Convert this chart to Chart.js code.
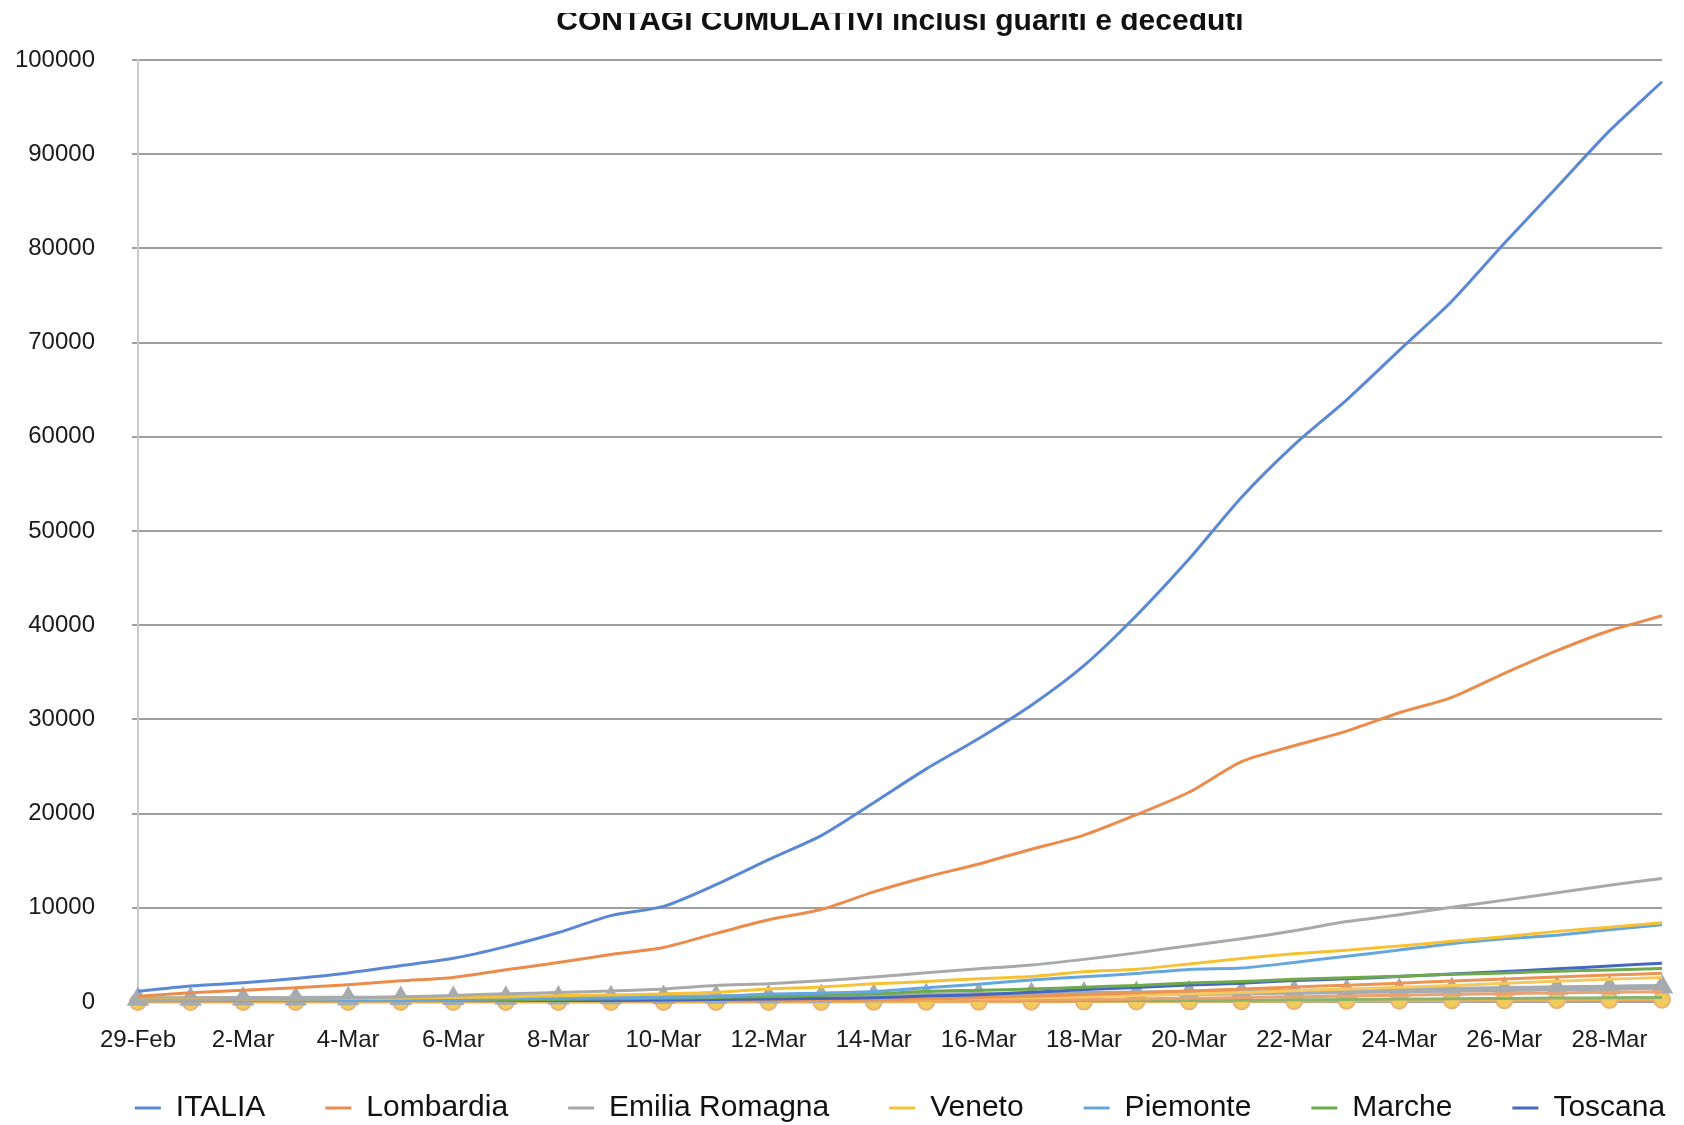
<!DOCTYPE html>
<html>
<head>
<meta charset="utf-8">
<script src="https://cdn.jsdelivr.net/npm/chart.js@4.4.1/dist/chart.umd.min.js"></script>
<style>
  html, body { margin: 0; padding: 0; background: #fff; overflow: hidden; }
  #wrap { position: absolute; top: 13px; left: 0; width: 1684px; height: 1112px; overflow: hidden; }
  #contagi { display: block; margin-top: -14px; }
</style>
</head>
<body>
<div id="wrap"><canvas id="contagi" width="1800" height="1256"></canvas></div>
<script>
// giorni (29-Feb .. 29-Mar)
const days = ['29-Feb', '1-Mar', '2-Mar', '3-Mar', '4-Mar', '5-Mar', '6-Mar', '7-Mar', '8-Mar', '9-Mar',
  '10-Mar', '11-Mar', '12-Mar', '13-Mar', '14-Mar', '15-Mar', '16-Mar', '17-Mar', '18-Mar', '19-Mar',
  '20-Mar', '21-Mar', '22-Mar', '23-Mar', '24-Mar', '25-Mar', '26-Mar', '27-Mar', '28-Mar', '29-Mar'];

const yTicks = [0, 10000, 20000, 30000, 40000, 50000, 60000, 70000, 80000, 90000, 100000];

const italia = [1128, 1694, 2036, 2502, 3089, 3858, 4636, 5883, 7375, 9172, 10149, 12462, 15113, 17660, 21157,
  24747, 27980, 31506, 35713, 41035, 47021, 53578, 59138, 63927, 69176, 74386, 80539, 86498, 92472, 97689];
const lombardia = [615, 984, 1254, 1520, 1820, 2251, 2612, 3420, 4189, 5050, 5791, 7280, 8725, 9820, 11685,
  13272, 14649, 16220, 17713, 19884, 22264, 25515, 27206, 28761, 30703, 32346, 34889, 37298, 39415, 41007];
const emilia = [145, 217, 285, 335, 420, 544, 698, 870, 1010, 1180, 1386, 1739, 1947, 2263, 2644,
  3093, 3522, 3931, 4525, 5214, 5968, 6705, 7555, 8535, 9254, 10054, 10816, 11588, 12383, 13119];
const veneto = [191, 263, 273, 307, 360, 407, 488, 543, 670, 744, 856, 1023, 1384, 1595, 1937,
  2172, 2473, 2704, 3214, 3484, 4031, 4617, 5122, 5505, 5948, 6442, 6935, 7497, 7930, 8420];
const piemonte = [11, 49, 56, 82, 108, 143, 207, 360, 401, 477, 501, 580, 840, 940, 1111,
  1516, 1897, 2341, 2682, 3015, 3461, 3606, 4200, 4861, 5515, 6193, 6708, 7092, 7671, 8206];
const marche = [11, 25, 31, 44, 61, 84, 124, 199, 271, 355, 394, 479, 592, 725, 865,
  1133, 1242, 1371, 1568, 1760, 2019, 2166, 2421, 2569, 2736, 2934, 3087, 3265, 3410, 3558];
const toscana = [11, 13, 13, 19, 19, 39, 61, 79, 113, 166, 208, 264, 320, 364, 455,
  630, 781, 1023, 1330, 1530, 1793, 2001, 2277, 2461, 2700, 2972, 3232, 3520, 3815, 4122];
const liguria = [21, 25, 25, 25, 26, 30, 30, 35, 51, 67, 89, 115, 153, 180, 212,
  306, 466, 600, 790, 980, 1180, 1390, 1600, 1790, 1990, 2240, 2450, 2650, 2860, 3050];
const lazio = [3, 6, 6, 11, 20, 30, 41, 52, 64, 75, 92, 116, 150, 200, 249,
  302, 395, 478, 560, 702, 855, 1002, 1190, 1390, 1553, 1745, 1990, 2190, 2405, 2610];
const campania = [290, 305, 320, 330, 350, 365, 380, 400, 420, 445, 470, 500, 540, 585, 630,
  680, 730, 790, 840, 900, 960, 1020, 1090, 1150, 1230, 1300, 1380, 1450, 1520, 1590];
const umbria = [0, 0, 0, 2, 5, 9, 11, 16, 22, 28, 35, 48, 62, 76, 94,
  139, 177, 216, 264, 330, 394, 473, 566, 628, 728, 802, 880, 960, 1030, 1090];
const sardegna = [0, 0, 0, 1, 2, 2, 4, 6, 8, 10, 12, 17, 23, 31, 39,
  48, 62, 78, 95, 120, 150, 190, 230, 270, 310, 345, 380, 420, 450, 480];
const basilicata = [0, 0, 0, 1, 1, 3, 3, 3, 4, 6, 8, 9, 10, 12, 20,
  22, 25, 35, 43, 56, 67, 77, 101, 120, 138, 166, 179, 197, 218, 243];

function line(label, data, color, width) {
  return {
    label: label, data: data,
    borderColor: color, backgroundColor: color,
    borderWidth: width || 3, pointRadius: 0, tension: 0.25, fill: false
  };
}

const datasets = [
  line('ITALIA', italia, '#5a88d4'),
  line('Lombardia', lombardia, '#eb8c4c'),
  line('Emilia Romagna', emilia, '#a9a9a9'),
  line('Veneto', veneto, '#f6c233'),
  line('Piemonte', piemonte, '#65a6df'),
  line('Marche', marche, '#6ea94c'),
  line('Toscana', toscana, '#4468c0'),
  line('Liguria', liguria, '#ee9452'),
  line('Lazio', lazio, '#f7c95c'),
  line('Umbria', umbria, '#eca270'),
  line('Sardegna', sardegna, '#8cb36c'),
];

// serie con marcatori
const camp = line('Campania', campania, '#a5abaf', 6);
camp.pointStyle = 'triangle'; camp.pointRadius = 7; camp.clip = false;
camp.pointBackgroundColor = '#a5abaf'; camp.pointBorderColor = '#a5abaf';
datasets.push(camp);

const basil = line('Basilicata', basilicata, '#e9b25a', 3);
basil.pointStyle = 'circle'; basil.pointRadius = 8; basil.clip = false;
basil.pointBackgroundColor = '#f1cc5a'; basil.pointBorderColor = '#eab07a'; basil.pointBorderWidth = 2;
datasets.push(basil);

// la prima riga della legenda va centrata a y = 1109 (canvas)
const legendRow = {
  id: 'legendRow',
  afterLayout(chart) {
    const lg = chart.legend;
    const lab = lg.options.labels;
    const d = (1109 - lab.padding - lab.font.size / 2) - lg.top;
    lg.top += d;
    lg.bottom += d;
  }
};

Chart.defaults.font.family = '"Liberation Sans", Arial, Helvetica, sans-serif';
Chart.defaults.color = '#1a1a1a';

new Chart(document.getElementById('contagi'), {
  type: 'line',
  data: { labels: days, datasets: datasets },
  plugins: [legendRow],
  options: {
    responsive: false,
    animation: false,
    devicePixelRatio: 1,
    layout: { padding: 0 },
    plugins: {
      title: {
        display: true,
        text: 'CONTAGI CUMULATIVI inclusi guariti e deceduti',
        color: '#111',
        font: { size: 30, weight: 'bold' },
        padding: { top: 5, bottom: 20 }
      },
      legend: {
        position: 'bottom',
        labels: {
          usePointStyle: true,
          pointStyle: 'line',
          pointStyleWidth: 26,
          padding: 60,
          color: '#111',
          font: { size: 30 }
        }
      },
      tooltip: { enabled: false }
    },
    scales: {
      x: {
        grid: { display: false, drawTicks: false },
        border: { display: false },
        ticks: {
          autoSkip: false, maxRotation: 0, padding: 24,
          font: { size: 24 },
          callback: function (v, i) { return i % 2 === 0 ? days[i] : ''; }
        },
        afterFit: function (s) { s.height = 63; }
      },
      y: {
        min: 0, max: 100000,
        afterBuildTicks: function (s) { s.ticks = yTicks.map(v => ({ value: v })); },
        grid: { color: '#9f9f9f', lineWidth: 2, tickLength: 6 },
        border: { color: '#cbcbcb', width: 2 },
        ticks: { padding: 37, font: { size: 24 }, callback: v => String(v) },
        afterFit: function (s) { s.width = 138; }
      },
      yR: {
        position: 'right', display: true,
        grid: { display: false }, border: { display: false }, ticks: { display: false },
        afterFit: function (s) { s.width = 138; }
      }
    }
  }
});
</script>
</body>
</html>
